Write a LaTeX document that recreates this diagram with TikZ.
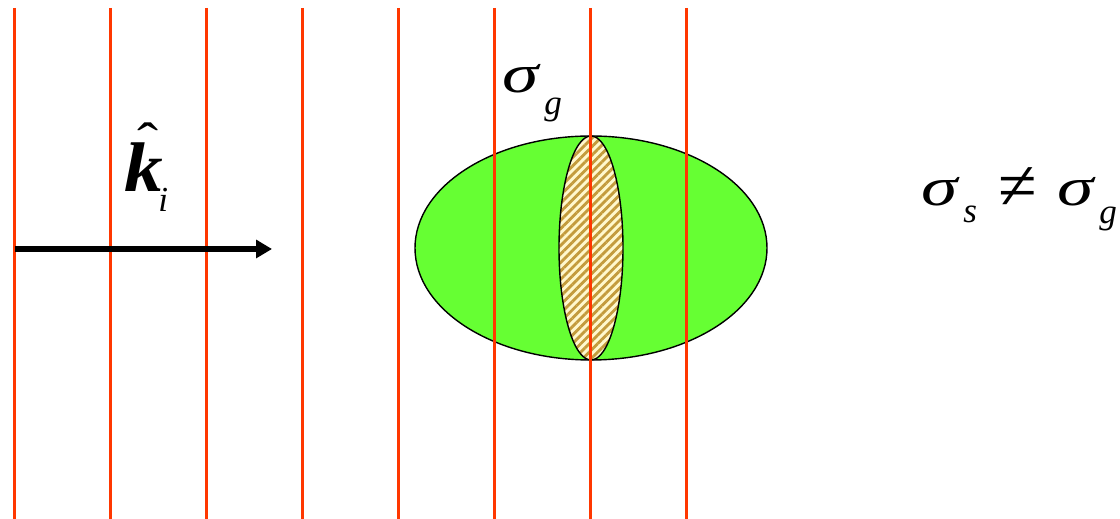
\documentclass[tikz,border=0pt]{standalone}
\usepackage{fontspec}
\setmainfont{Liberation Serif}
\usetikzlibrary{patterns.meta,arrows.meta}
\definecolor{redl}{RGB}{255,55,0}
\definecolor{grn}{RGB}{102,255,51}
\definecolor{gold}{RGB}{195,155,60}
\definecolor{cream}{RGB}{255,248,205}
\tikzset{
  wave/.style={redl, line width=1.4pt},
  big/.style={font=\fontsize{31}{33}\selectfont\itshape, inner sep=0pt, xscale=1.35},
  sub/.style={font=\fontsize{20}{22}\selectfont\itshape, inner sep=0pt},
}
\begin{document}
\begin{tikzpicture}[x=0.02cm,y=-0.02cm]
\useasboundingbox (0,0) rectangle (1120,519);
% green ellipse
\draw[fill=grn, line width=0.8pt] (591,248) ellipse [x radius=176, y radius=112];
% hatched inner ellipse
\fill[cream] (591,248) ellipse [x radius=32, y radius=112];
\fill[pattern={Lines[angle=45,distance=3.4pt,line width=1.6pt]}, pattern color=gold] (591,248) ellipse [x radius=32, y radius=112];
\draw[line width=0.8pt] (591,248) ellipse [x radius=32, y radius=112];
% wave fronts
\foreach \x in {14.5,110.5,206.5,302.5,398.5,494.5,590.5,686.5} {
  \draw[wave] (\x,8) -- (\x,519);
}
% arrow
\coordinate (a0) at (15,249);
\coordinate (a1) at (272,249);
\draw[line width=3.4pt, -{Triangle[length=9pt,width=10pt]}] (a0) -- (a1);
% k hat
\node[inner sep=0pt, anchor=base west, font=\fontsize{40}{42}\selectfont\bfseries\itshape, xscale=1.1] (k) at (124,192) {k};
\node[inner sep=0pt, font=\fontsize{30}{32}\selectfont, xscale=1.2] (hat) at (148,141) {ˆ};
\node[sub, anchor=base west] (ki) at (158,212) {i};
% sigma_g
\node[big, anchor=base west] (sg) at (502,93) {σ};
\node[sub, anchor=base west] (sgi) at (544,115) {g};
% sigma_s != sigma_g
\node[big, anchor=base west] (ss) at (921,206) {σ};
\node[sub, anchor=base west] (ssi) at (963,223) {s};
\node[inner sep=0pt, anchor=base west, font=\fontsize{40}{42}\selectfont] (ne) at (998,210) {≠};
\node[big, anchor=base west] (sg2) at (1057,206) {σ};
\node[sub, anchor=base west] (sg2i) at (1099,224) {g};
\end{tikzpicture}
\end{document}
